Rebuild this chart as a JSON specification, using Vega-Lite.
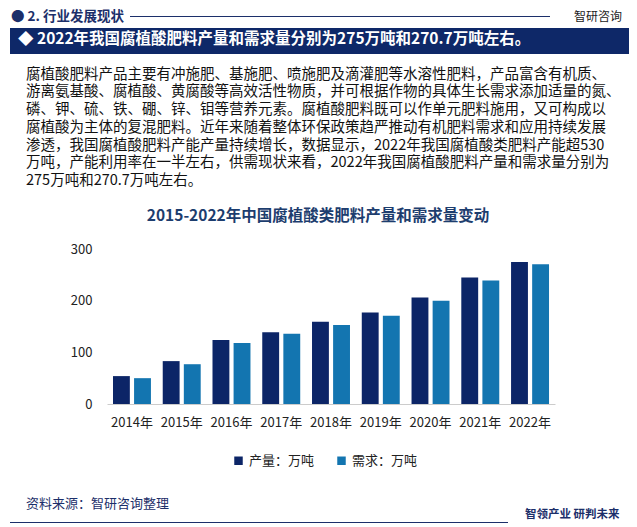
{
  "$schema": "https://vega.github.io/schema/vega-lite/v6.json",
  "background": "white",
  "padding": {"left": 10, "right": 4, "top": 9, "bottom": 0},
  "config": {
    "font": "Noto Sans CJK SC",
    "view": {"stroke": null},
    "axis": {"labelFont": "Noto Sans CJK SC"},
    "legend": {"labelFont": "Noto Sans CJK SC"}
  },
  "datasets": {
    "one": [{"k": 1}],
    "bars": [
      {"year": "2014年", "type": "产量：万吨", "value": 54},
      {"year": "2014年", "type": "需求：万吨", "value": 50},
      {"year": "2015年", "type": "产量：万吨", "value": 83},
      {"year": "2015年", "type": "需求：万吨", "value": 77},
      {"year": "2016年", "type": "产量：万吨", "value": 124},
      {"year": "2016年", "type": "需求：万吨", "value": 118},
      {"year": "2017年", "type": "产量：万吨", "value": 139},
      {"year": "2017年", "type": "需求：万吨", "value": 136},
      {"year": "2018年", "type": "产量：万吨", "value": 159},
      {"year": "2018年", "type": "需求：万吨", "value": 153},
      {"year": "2019年", "type": "产量：万吨", "value": 177},
      {"year": "2019年", "type": "需求：万吨", "value": 171},
      {"year": "2020年", "type": "产量：万吨", "value": 206},
      {"year": "2020年", "type": "需求：万吨", "value": 200},
      {"year": "2021年", "type": "产量：万吨", "value": 245},
      {"year": "2021年", "type": "需求：万吨", "value": 239},
      {"year": "2022年", "type": "产量：万吨", "value": 275},
      {"year": "2022年", "type": "需求：万吨", "value": 270.7}
    ]
  },
  "spacing": 12,
  "vconcat": [
    {
      "spacing": 5,
      "vconcat": [
        {
          "spacing": 6,
          "hconcat": [
            {
              "data": {"name": "one"},
              "mark": {"type": "text"},
              "encoding": {"text": {"value": ""}},
              "width": 1,
              "height": 1,
              "title": {"text": "● 2. 行业发展现状", "orient": "right", "angle": 0, "align": "right", "baseline": "middle", "anchor": "middle", "fontSize": 13.5, "fontWeight": "bold", "color": "#1c2f6a", "offset": 0}
            },
            {
              "data": {"name": "one"},
              "mark": {"type": "text"},
              "encoding": {"text": {"value": ""}},
              "width": 420,
              "height": 1,
              "view": {"fill": "#1c2f6a", "stroke": null},
              "title": {"text": "智研咨询", "orient": "right", "angle": 0, "align": "right", "baseline": "middle", "anchor": "middle", "fontSize": 12, "fontWeight": "normal", "color": "#222222", "offset": 24}
            }
          ]
        },
        {
          "data": {"name": "one"},
          "mark": {"type": "text"},
          "encoding": {"text": {"value": ""}},
          "width": 619,
          "height": 26,
          "view": {"fill": "#0e2868", "stroke": null},
          "title": {"text": "◆ 2022年我国腐植酸肥料产量和需求量分别为275万吨和270.7万吨左右。", "orient": "top", "anchor": "start", "frame": "group", "baseline": "middle", "offset": -26, "dx": 8, "fontSize": 15.5, "fontWeight": "bold", "color": "white"}
        }
      ]
    },
    {
      "spacing": 29,
      "vconcat": [
        {
          "spacing": 0,
          "resolve": {"scale": {"color": "independent"}, "legend": {"color": "independent"}},
          "title": {
            "text": [
              "腐植酸肥料产品主要有冲施肥、基施肥、喷施肥及滴灌肥等水溶性肥料，产品富含有机质、",
              "游离氨基酸、腐植酸、黄腐酸等高效活性物质，并可根据作物的具体生长需求添加适量的氮、",
              "磷、钾、硫、铁、硼、锌、钼等营养元素。腐植酸肥料既可以作单元肥料施用，又可构成以",
              "腐植酸为主体的复混肥料。近年来随着整体环保政策趋严推动有机肥料需求和应用持续发展",
              "渗透，我国腐植酸肥料产能产量持续增长，数据显示，2022年我国腐植酸类肥料产能超530",
              "万吨，产能利用率在一半左右，供需现状来看，2022年我国腐植酸肥料产量和需求量分别为",
              "275万吨和270.7万吨左右。"
            ],
            "anchor": "start",
            "frame": "group",
            "dx": 16,
            "fontSize": 14.5,
            "fontWeight": "normal",
            "color": "#111111",
            "lineHeight": 17.7,
            "offset": 20
          },
          "hconcat": [
            {
              "data": {"name": "one"},
              "mark": {"type": "text"},
              "encoding": {"text": {"value": ""}},
              "width": 1,
              "height": 1
            },
            {
              "data": {"name": "bars"},
              "width": 448,
              "height": 155,
              "title": {"text": "2015-2022年中国腐植酸类肥料产量和需求量变动", "anchor": "middle", "frame": "group", "fontSize": 15.5, "fontWeight": "bold", "color": "#1d3d6e", "offset": 19, "dx": -13},
              "mark": {"type": "bar"},
              "encoding": {
                "x": {
                  "field": "year", "type": "nominal",
                  "scale": {"paddingInner": 0.237, "paddingOuter": 0.12},
                  "axis": {"title": null, "labelAngle": 0, "ticks": false, "domainColor": "#cccccc", "labelFontSize": 13, "labelColor": "#222222", "labelPadding": 12}
                },
                "xOffset": {"field": "type", "type": "nominal", "sort": ["产量：万吨", "需求：万吨"], "scale": {"paddingInner": 0.2}},
                "y": {
                  "field": "value", "type": "quantitative",
                  "scale": {"domain": [0, 300], "nice": false},
                  "axis": {"title": null, "grid": false, "domain": false, "ticks": false, "values": [0, 100, 200, 300], "labelFontSize": 13, "labelColor": "#222222", "labelPadding": 15, "minExtent": 96}
                },
                "color": {
                  "field": "type", "type": "nominal", "sort": ["产量：万吨", "需求：万吨"],
                  "scale": {"range": ["#0c2567", "#1375b0"]},
                  "legend": {"title": null, "orient": "none", "legendX": 125, "legendY": 205, "direction": "horizontal", "symbolType": "square", "symbolSize": 72, "labelFontSize": 13, "labelColor": "#222222", "columnPadding": 20}
                }
              }
            }
          ]
        },
        {
          "hconcat": [
            {
              "data": {"name": "one"},
              "mark": {"type": "text"},
              "encoding": {"text": {"value": ""}},
              "width": 498,
              "height": 1,
              "view": {"fill": "#1c2f6a", "stroke": null},
              "title": {"text": "资料来源：智研咨询整理", "orient": "top", "anchor": "start", "frame": "group", "dx": 16, "offset": 6, "fontSize": 13, "fontWeight": "normal", "color": "#1c2f6a"}
            }
          ],
          "title": {"text": "智领产业 研判未来", "orient": "right", "angle": 0, "align": "right", "baseline": "middle", "anchor": "middle", "fontSize": 11.5, "fontWeight": "bold", "color": "#1c2f6a", "offset": 17, "dy": 2}
        }
      ]
    }
  ]
}
